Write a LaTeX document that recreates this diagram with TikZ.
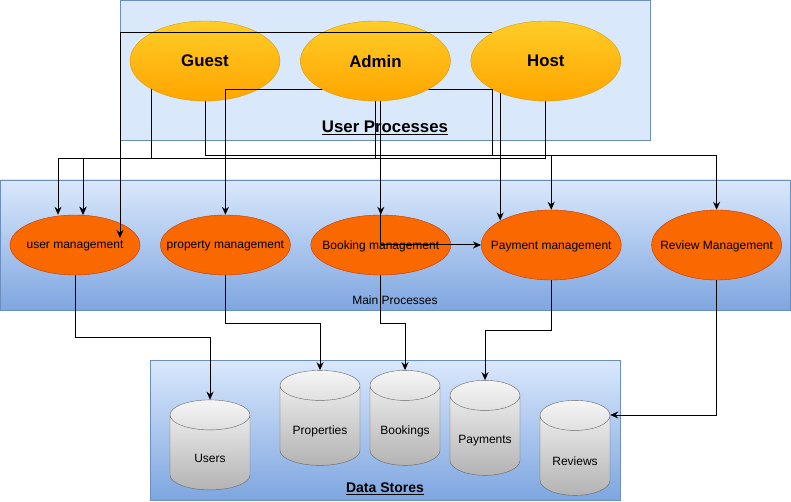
\documentclass[tikz,border=0pt]{standalone}
\usepackage{fontspec}
\setmainfont{Liberation Sans}
\usetikzlibrary{positioning,shapes.geometric,arrows.meta}

\definecolor{procfill}{HTML}{DAE8FC}
\definecolor{procgrad}{HTML}{7EA6E0}
\definecolor{procline}{HTML}{6C8EBF}
\definecolor{userfill}{HTML}{FFCD28}
\definecolor{usergrad}{HTML}{FFA500}
\definecolor{userline}{HTML}{D79B00}
\definecolor{mainfill}{HTML}{FA6800}
\definecolor{mainline}{HTML}{C73500}
\definecolor{storefill}{HTML}{F5F5F5}
\definecolor{storegrad}{HTML}{B3B3B3}
\definecolor{storeline}{HTML}{666666}

\pgfdeclarelayer{back}
\pgfsetlayers{back,main}

\tikzset{
  group/.style={draw=procline, rectangle, inner sep=0pt},
  flatgroup/.style={group, fill=procfill},
  shadedgroup/.style={group, top color=procfill, bottom color=procgrad},
  grouptitle/.style={inner sep=0pt, font=\bfseries\fontsize{16.8}{18}\selectfont},
  user/.style={ellipse, draw=userline, top color=userfill, bottom color=usergrad,
    minimum width=150pt, minimum height=80pt, inner sep=0pt,
    font=\bfseries\fontsize{16.8}{18}\selectfont},
  process/.style={ellipse, draw=mainline, fill=mainfill, minimum width=130pt,
    minimum height=60pt, inner xsep=-30pt, inner ysep=0pt, text depth=0pt,
    font=\fontsize{12}{14}\selectfont},
  store/.style={cylinder, shape border rotate=90, aspect=0.43, draw=storeline,
    top color=storefill, bottom color=storegrad, inner xsep=35pt,
    inner ysep=0pt, minimum height=95pt},
  widestore/.style={store, inner xsep=40pt, aspect=0.375},
  every label/.style={font=\fontsize{12}{14}\selectfont},
  flow/.style={-{Stealth[length=8pt,width=7pt]}, line width=1pt},
}

\begin{document}
\begin{tikzpicture}[x=1pt,y=-1pt]
  \useasboundingbox (0,0) rectangle (791,502);

  % containers
  \begin{pgfonlayer}{back}
    \node[flatgroup, minimum width=530pt, minimum height=140pt] (userbox) at (385,70) {}; %
    \node[shadedgroup, minimum width=790pt, minimum height=130pt] (mainbox) at (395,245) {}; %
    \node[shadedgroup, minimum width=470pt, minimum height=140pt] (storebox) at (385,430) {}; %
    \node[user] (guest) at (205,61) {Guest}; %
  \end{pgfonlayer}

  \node[grouptitle] (usertitle) at (385,128) {\underline{User Processes}}; %
  \node[font=\fontsize{12}{14}\selectfont, inner sep=0pt] (maintitle) at (395,300) {Main Processes}; %
  \node[grouptitle, font=\bfseries\fontsize{14}{16}\selectfont] (storetitle) at (385,489) {\underline{Data Stores}}; %

  % users
  \node[user, right=20pt of guest] (admin) {Admin}; %
  \node[user, right=20pt of admin] (host) {Host}; %

  % main processes
  \node[process] (umgmt) at (75,245) {user management}; %
  \node[process, right=20pt of umgmt] (pmgmt) {property management}; %
  \node[process, minimum width=140pt, right=20pt of pmgmt] (bmgmt) {Booking management}; %
  \node[process, minimum width=140pt, minimum height=70pt, right=30pt of bmgmt] (paymgmt) {Payment management}; %
  \node[process, minimum height=70pt, right=30pt of paymgmt] (revmgmt) {Review Management}; %

  % data stores
  \node[widestore, minimum height=90pt, label={[yshift=2pt]center:Users}] (users) at (210,460) {}; %
  \node[widestore, label={[yshift=2pt]center:Properties}] (props) at (320,433) {}; %
  \node[store, label={[yshift=2pt]center:Bookings}] (bookings) at (405,433) {}; %
  \node[store, label={[yshift=2pt]center:Payments}] (payments) at (485,443) {}; %
  \node[store, label={[yshift=2pt]center:Reviews}] (reviews) at (575,463) {}; %

  % user processes to main processes
  \begin{pgfonlayer}{back}
    \draw[flow] (host.208) -| (pmgmt.north); %
  \end{pgfonlayer}
  \draw[flow] (host.152) -| ([xshift=45pt,yshift=7pt]umgmt.center); %
  \draw[flow] (guest.208) -- ++(0,69) -| ([xshift=-17pt]umgmt.north); %
  \draw[flow] (host.south) -- ++(0,57) -| ([xshift=8pt]umgmt.north); %
  \draw[flow] (admin.south) -- ++(0,57) -| ([xshift=8pt]umgmt.north); %
  \draw[flow] (guest.south) -- ++(0,54) -| (paymgmt.north); %
  \draw[flow] (host.208) -- ++(0,66) -| (revmgmt.north); %
  \draw[flow] (admin.south -| bmgmt.north) -- (bmgmt.north); %
  \draw[flow] (admin.south -| bmgmt.north) |- (paymgmt.west); %
  \draw[flow] (host.215) -- (host.215 |- paymgmt.154); %

  % main processes to data stores
  \draw[flow] (umgmt.south) -- ++(0,62) -| (users.north); %
  \draw[flow] (pmgmt.south) -- ++(0,48) -| (props.north); %
  \draw[flow] (bmgmt.south) -- ++(0,48) -| (bookings.north); %
  \draw[flow] (paymgmt.south) -- ++(0,50) -| (payments.north); %
  \draw[flow] (revmgmt.south) |- ([yshift=48pt]reviews.east); %
\end{tikzpicture}
\end{document}
